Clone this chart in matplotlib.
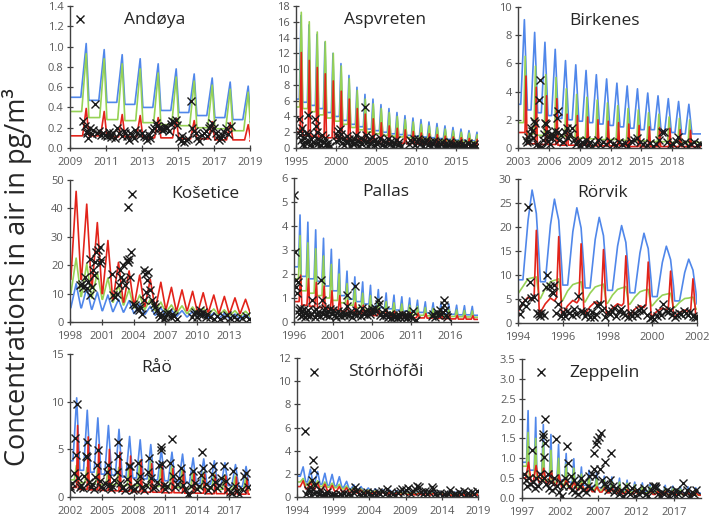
import numpy as np
import matplotlib.pyplot as plt
from matplotlib.ticker import FormatStrFormatter

plt.rcParams["font.family"] = ["Open Sans", "DejaVu Sans"]

BLUE, GREEN, RED = "#5087ea", "#96d255", "#e2231a"

# ---------------- Andøya ----------------
ANDOYA_YEARS = list(range(2009, 2019))
ANDOYA_BLUE_PK = [1.03, 0.97, 0.92, 0.88, 0.83, 0.78, 0.73, 0.69, 0.65, 0.61]
ANDOYA_BLUE_LO = [0.50, 0.47, 0.45, 0.43, 0.40, 0.37, 0.35, 0.32, 0.30, 0.28, 0.26]
ANDOYA_GREEN_PK = [0.93, 0.88, 0.83, 0.78, 0.74, 0.70, 0.66, 0.62, 0.58, 0.55]
ANDOYA_GREEN_LO = [0.36, 0.30, 0.28, 0.27, 0.25, 0.23, 0.22, 0.20, 0.19, 0.17, 0.16]
ANDOYA_RED_PK = [0.39, 0.36, 0.33, 0.32, 0.30, 0.29, 0.27, 0.26, 0.25, 0.23]
ANDOYA_RED_LO = [0.12, 0.12, 0.11, 0.11, 0.10, 0.10, 0.09, 0.09, 0.08, 0.08, 0.07]
ANDOYA_OBS = [
    (2009.56, 1.27), (2009.7, 0.27), (2009.84, 0.22), (2009.93, 0.17), (2010.0, 0.10),
    (2009.97, 0.15), (2010.1, 0.20), (2010.2, 0.14), (2010.3, 0.18), (2010.4, 0.43),
    (2010.5, 0.15), (2010.6, 0.17), (2010.7, 0.13), (2010.86, 0.15), (2010.95, 0.13),
    (2011.05, 0.12), (2011.15, 0.16), (2011.23, 0.13), (2011.3, 0.11), (2011.4, 0.15),
    (2011.5, 0.10), (2011.6, 0.20), (2011.7, 0.15), (2011.9, 0.12), (2012.0, 0.17),
    (2012.07, 0.15), (2012.15, 0.12), (2012.26, 0.08), (2012.35, 0.15), (2012.45, 0.13),
    (2012.55, 0.10), (2012.63, 0.18), (2012.72, 0.15), (2012.9, 0.13), (2013.0, 0.15),
    (2013.1, 0.12), (2013.2, 0.11), (2013.28, 0.08), (2013.4, 0.13), (2013.47, 0.10),
    (2013.55, 0.18), (2013.65, 0.20), (2013.75, 0.25), (2013.85, 0.22), (2013.93, 0.20),
    (2014.05, 0.20), (2014.12, 0.18), (2014.2, 0.19), (2014.3, 0.22), (2014.4, 0.20),
    (2014.5, 0.17), (2014.6, 0.24), (2014.68, 0.27), (2014.78, 0.26), (2014.87, 0.28),
    (2014.96, 0.23), (2015.05, 0.10), (2015.15, 0.07), (2015.24, 0.12), (2015.35, 0.06),
    (2015.42, 0.08), (2015.55, 0.09), (2015.7, 0.46), (2015.8, 0.20), (2015.9, 0.17),
    (2015.98, 0.15), (2016.05, 0.10), (2016.17, 0.07), (2016.36, 0.13), (2016.45, 0.15),
    (2016.54, 0.17), (2016.63, 0.12), (2016.73, 0.20), (2016.8, 0.22), (2016.9, 0.25),
    (2017.0, 0.20), (2017.1, 0.15), (2017.2, 0.12), (2017.3, 0.08), (2017.4, 0.10),
    (2017.47, 0.13), (2017.55, 0.16), (2017.66, 0.20), (2017.8, 0.14), (2017.94, 0.22),
]

# ---------------- Aspvreten ----------------
ASPVRETEN_YEARS = list(range(1995, 2018))
ASPVRETEN_BLUE_PK = [16.8, 15.6, 14.4, 13.4, 12.0, 10.7, 9.2, 7.7, 6.8, 6.2, 5.5, 5.0,
                     4.5, 4.1, 3.8, 3.6, 3.3, 3.1, 2.8, 2.6, 2.4, 2.2, 2.0]
ASPVRETEN_BLUE_LO = [6.2, 5.8, 5.4, 5.0, 4.5, 4.0, 3.5, 3.0, 2.7, 2.4, 2.2, 2.0,
                     1.8, 1.7, 1.6, 1.5, 1.4, 1.3, 1.2, 1.1, 1.0, 0.95, 0.9, 0.85]
ASPVRETEN_GREEN_PK = [17.2, 16.0, 14.7, 13.5, 12.0, 10.4, 8.8, 7.3, 6.2, 5.6, 5.0, 4.5,
                      4.0, 3.6, 3.3, 3.0, 2.8, 2.6, 2.4, 2.2, 2.0, 1.9, 1.7]
ASPVRETEN_GREEN_LO = [5.2, 5.0, 4.6, 4.2, 3.8, 3.4, 3.0, 2.6, 2.3, 2.0, 1.8, 1.6,
                      1.5, 1.4, 1.3, 1.2, 1.1, 1.0, 0.95, 0.9, 0.85, 0.8, 0.75, 0.7]
ASPVRETEN_RED_PK = [12.1, 11.1, 10.2, 9.4, 8.5, 7.2, 6.2, 5.0, 4.3, 3.7, 3.2, 2.8,
                    2.5, 2.3, 2.1, 1.9, 1.8, 1.7, 1.5, 1.4, 1.3, 1.2, 1.1]
ASPVRETEN_RED_LO = [2.0, 1.6, 1.5, 1.4, 1.3, 1.2, 1.1, 1.0, 0.9, 0.8, 0.75, 0.7,
                    0.65, 0.6, 0.55, 0.5, 0.5, 0.45, 0.45, 0.4, 0.4, 0.35, 0.35, 0.3]
ASPVRETEN_OBS = [
    (1995.35, 3.7), (1995.45, 2.2), (1995.55, 1.6), (1995.65, 1.0), (1995.75, 2.5),
    (1995.85, 0.5), (1995.95, 1.3), (1996.05, 0.3), (1996.15, 0.8), (1996.3, 1.9),
    (1996.45, 4.15), (1996.55, 1.8), (1996.65, 0.9), (1996.8, 0.4), (1996.9, 1.2),
    (1997.0, 0.2), (1997.1, 0.7), (1997.25, 1.5), (1997.4, 3.7), (1997.5, 2.75),
    (1997.6, 2.0), (1997.7, 1.2), (1997.8, 0.6), (1997.9, 0.3), (1998.0, 1.0),
    (1998.15, 0.4), (1998.3, 1.6), (1998.45, 0.8), (1998.6, 1.3), (1998.75, 0.5),
    (1998.9, 0.2), (1999.05, 0.6), (1999.2, 0.3), (2000.0, 0.9), (2000.1, 1.6),
    (2000.2, 2.2), (2000.35, 1.0), (2000.5, 2.45), (2000.6, 1.8), (2000.75, 0.6),
    (2000.9, 1.2), (2001.05, 0.4), (2001.2, 0.9), (2001.35, 1.5), (2001.5, 0.7),
    (2001.65, 1.1), (2001.8, 0.3), (2001.95, 0.8), (2002.1, 0.5), (2002.25, 1.2),
    (2002.4, 0.6), (2002.55, 1.6), (2002.7, 0.9), (2002.85, 0.3), (2003.0, 0.7),
    (2003.15, 1.3), (2003.3, 0.5), (2003.45, 1.0), (2003.6, 5.2), (2003.7, 1.6),
    (2003.85, 0.8), (2004.0, 0.3), (2004.15, 1.1), (2004.3, 0.6), (2004.45, 1.4),
    (2004.6, 0.9), (2004.75, 0.4), (2004.9, 1.0), (2005.1, 0.5), (2005.3, 0.8),
    (2005.5, 1.3), (2005.7, 0.4), (2005.9, 0.9), (2006.1, 0.3), (2006.3, 0.7),
    (2006.5, 1.2), (2006.7, 0.5), (2006.9, 0.9), (2007.1, 0.2), (2007.3, 0.6),
    (2007.5, 1.0), (2007.7, 0.4), (2007.9, 0.8), (2008.1, 0.3), (2009.1, 0.5),
    (2009.3, 1.0), (2009.5, 0.7), (2009.7, 1.2), (2009.9, 0.4), (2010.1, 0.8),
    (2010.3, 1.1), (2010.5, 0.5), (2010.7, 0.9), (2010.9, 0.3), (2011.1, 0.7),
    (2011.3, 1.0), (2011.5, 0.4), (2011.7, 0.8), (2011.9, 0.2), (2012.1, 0.6),
    (2012.3, 0.9), (2012.5, 0.3), (2012.7, 0.7), (2012.9, 0.2), (2013.1, 0.5),
    (2013.3, 0.8), (2013.5, 0.3), (2013.7, 0.6), (2013.9, 0.2), (2014.1, 0.4),
    (2014.3, 0.7), (2014.5, 0.3), (2014.7, 0.5), (2014.9, 0.2), (2015.1, 0.4),
    (2015.3, 0.6), (2015.5, 0.2), (2015.7, 0.5), (2015.9, 0.3), (2016.1, 0.4),
    (2016.3, 0.2), (2016.5, 0.6), (2016.7, 0.3), (2016.9, 0.4), (2017.1, 0.2),
    (2017.3, 0.5), (2017.5, 0.3),
]

# ---------------- Birkenes ----------------
BIRKENES_YEARS = list(range(2003, 2020))
BIRKENES_BLUE_PK = [9.1, 8.2, 7.5, 7.0, 6.2, 5.9, 5.5, 5.2, 4.9, 4.6, 4.4, 4.2, 3.9, 3.7, 3.5, 3.3, 3.1]
BIRKENES_BLUE_LO = [3.1, 2.7, 2.5, 2.3, 2.1, 2.0, 1.9, 1.8, 1.7, 1.6, 1.5, 1.4, 1.3, 1.3, 1.2, 1.1, 1.0, 1.0]
BIRKENES_GREEN_PK = [6.5, 5.8, 5.2, 5.0, 4.2, 3.8, 3.6, 3.4, 3.2, 3.0, 2.8, 2.7, 2.5, 2.4, 2.2, 2.1, 2.0]
BIRKENES_GREEN_LO = [1.8, 1.0, 0.9, 0.85, 0.8, 0.75, 0.7, 0.65, 0.6, 0.6, 0.55, 0.5, 0.5, 0.45, 0.45, 0.4, 0.4, 0.4]
BIRKENES_RED_PK = [5.1, 4.3, 3.7, 3.5, 2.4, 2.3, 2.2, 2.0, 1.9, 1.8, 1.7, 1.6, 1.5, 1.45, 1.4, 1.3, 1.25]
BIRKENES_RED_LO = [1.1, 0.3, 0.25, 0.25, 0.2, 0.2, 0.2, 0.15, 0.15, 0.15, 0.15, 0.1, 0.1, 0.1, 0.1, 0.1, 0.1, 0.1]
BIRKENES_OBS = [
    (2003.8, 0.6), (2003.9, 0.4), (2004.0, 0.8), (2004.1, 0.5), (2004.2, 1.0),
    (2004.3, 1.4), (2004.4, 1.2), (2004.5, 0.7), (2004.6, 1.9), (2004.7, 1.8),
    (2004.8, 0.3), (2004.9, 0.1), (2005.0, 3.4), (2005.1, 4.85), (2005.2, 0.05),
    (2005.3, 0.0), (2005.4, 0.6), (2005.5, 1.0), (2005.6, 1.75), (2005.7, 1.7),
    (2005.8, 1.1), (2005.9, 0.5), (2006.0, 0.8), (2006.1, 0.3), (2006.2, 1.0),
    (2006.3, 0.7), (2006.4, 0.9), (2006.6, 1.2), (2006.75, 2.1), (2006.85, 2.6),
    (2006.9, 1.1), (2007.0, 0.6), (2007.2, 0.9), (2007.4, 0.4), (2007.6, 1.1),
    (2007.8, 1.4), (2007.9, 0.7), (2008.1, 1.0), (2008.25, 1.45), (2008.4, 0.6),
    (2008.6, 0.3), (2008.8, 0.5), (2009.0, 0.2), (2009.2, 0.4), (2009.4, 0.3),
    (2009.6, 0.6), (2009.8, 0.2), (2010.0, 0.4), (2010.2, 0.15), (2010.5, 0.3),
    (2010.8, 0.55), (2011.0, 0.2), (2011.3, 0.4), (2011.6, 0.25), (2011.9, 0.5),
    (2012.2, 0.3), (2012.5, 0.2), (2012.8, 0.45), (2013.1, 0.25), (2013.4, 0.35),
    (2013.7, 0.15), (2014.0, 0.5), (2014.3, 0.6), (2014.6, 0.7), (2014.9, 0.4),
    (2015.2, 0.3), (2015.5, 0.2), (2015.8, 0.35), (2016.1, 0.15), (2016.4, 0.3),
    (2016.7, 0.6), (2017.0, 1.1), (2017.2, 1.15), (2017.5, 0.4), (2017.8, 0.2),
    (2018.1, 0.3), (2018.4, 0.5), (2018.6, 0.75), (2018.9, 0.25), (2019.2, 0.4),
    (2019.5, 0.15), (2019.8, 0.3), (2020.1, 0.45), (2020.4, 0.2), (2020.7, 0.25),
]

# ---------------- Košetice ----------------
KOSETICE_YEARS = list(range(1998, 2015))
KOSETICE_BLUE_PK = [13.5, 12, 10.5, 9.5, 8, 7.5, 6.5, 5.5, 5, 4.3, 4, 3.7, 3.4, 3.2, 3, 2.8, 2.6]
KOSETICE_BLUE_LO = [5, 5, 4.5, 4, 3.7, 3.5, 3, 2.7, 2.4, 2.2, 2, 1.8, 1.6, 1.5, 1.4, 1.3, 1.2, 1.2]
KOSETICE_GREEN_PK = [22.5, 20.5, 17.5, 15.5, 13, 11.5, 9.5, 8, 7, 6, 5.7, 5.3, 5, 4.6, 4.3, 4, 3.8]
KOSETICE_GREEN_LO = [10, 9, 8.5, 8, 7, 6, 5, 4.5, 4, 3.5, 3.2, 3, 2.8, 2.6, 2.4, 2.2, 2, 2]
KOSETICE_RED_PK = [46, 41.5, 35, 28.7, 21, 18, 16.5, 15, 14, 12.2, 11.3, 10.8, 10.3, 9.5, 9, 8.5, 8]
KOSETICE_RED_LO = [15, 15, 12, 10, 8, 7, 6, 5.5, 5, 4.5, 4, 4, 3.5, 3.5, 3, 3, 3, 3]
KOSETICE_OBS = [
    (1998.95, 12.9), (1999.1, 13.5), (1999.26, 12.3), (1999.4, 15.9), (1999.6, 11.8),
    (1999.7, 14.1), (1999.9, 9.4), (2000.05, 12.3), (1999.9, 22.3), (2000.2, 18.2),
    (2000.3, 16.5), (2000.4, 21.2), (2000.5, 24.7), (2000.6, 25.3), (2000.8, 26.5),
    (2000.85, 20.6), (2000.95, 21.8), (2001.95, 17.0), (2002.1, 9.4), (2002.26, 8.8),
    (2002.4, 10.0), (2002.6, 12.9), (2002.7, 18.2), (2002.8, 15.9), (2003.0, 14.7),
    (2003.05, 20.0), (2003.2, 12.9), (2003.4, 21.8), (2003.5, 40.6), (2003.5, 21.2),
    (2003.6, 22.3), (2003.7, 15.9), (2003.75, 24.7), (2003.85, 45.0), (2003.95, 6.5),
    (2004.15, 5.9), (2004.3, 4.7), (2004.5, 4.1), (2004.6, 5.3), (2004.8, 2.9),
    (2004.95, 7.6), (2005.0, 18.2), (2005.1, 17.0), (2005.2, 10.6), (2005.25, 14.7),
    (2005.4, 17.6), (2005.6, 11.2), (2005.7, 7.6), (2005.9, 6.5), (2006.05, 5.3),
    (2006.2, 4.1), (2006.4, 2.9), (2006.5, 1.8), (2006.7, 2.4), (2006.85, 1.2),
    (2007.0, 1.8), (2007.15, 2.9), (2007.3, 3.5), (2007.5, 1.8), (2007.6, 2.7),
    (2007.8, 2.0), (2008.1, 1.2), (2009.5, 1.8), (2009.7, 2.7), (2009.85, 3.5),
    (2010.0, 1.8), (2010.15, 2.9), (2010.3, 4.1), (2010.5, 2.4), (2010.6, 3.5),
    (2010.8, 1.8), (2010.95, 2.7), (2011.25, 1.8), (2011.6, 1.2), (2011.9, 2.0),
    (2012.2, 1.2), (2012.5, 1.8), (2012.85, 2.4), (2013.15, 1.4), (2013.5, 1.8),
    (2013.8, 1.2), (2014.2, 1.5), (2014.6, 2.0), (2014.9, 1.0),
]

# ---------------- Pallas ----------------
PALLAS_YEARS = list(range(1996, 2019))
PALLAS_BLUE_PK = [4.46, 4.16, 3.84, 3.49, 3.03, 2.61, 2.12, 1.88, 1.67, 1.53, 1.35, 1.21,
                  1.12, 1.05, 1.0, 0.91, 0.84, 0.8, 0.77, 0.75, 0.7, 0.68, 0.65]
PALLAS_BLUE_LO = [2.3, 1.9, 1.8, 1.7, 1.5, 1.3, 1.1, 0.95, 0.85, 0.75, 0.65, 0.6,
                  0.55, 0.5, 0.45, 0.42, 0.4, 0.38, 0.36, 0.34, 0.32, 0.3, 0.3, 0.28]
PALLAS_GREEN_PK = [3.6, 3.3, 3.05, 2.75, 2.4, 2.0, 1.6, 1.4, 1.2, 1.1, 0.95, 0.85,
                   0.8, 0.75, 0.7, 0.65, 0.6, 0.57, 0.55, 0.52, 0.5, 0.48, 0.46]
PALLAS_GREEN_LO = [1.8, 1.3, 1.2, 1.1, 1.0, 0.9, 0.8, 0.7, 0.6, 0.5, 0.45, 0.4,
                   0.37, 0.34, 0.31, 0.3, 0.28, 0.26, 0.25, 0.24, 0.23, 0.22, 0.21, 0.2]
PALLAS_RED_PK = [1.95, 1.8, 1.65, 1.5, 1.3, 1.1, 0.9, 0.8, 0.7, 0.6, 0.55, 0.5,
                 0.45, 0.42, 0.4, 0.37, 0.35, 0.33, 0.31, 0.3, 0.28, 0.27, 0.26]
PALLAS_RED_LO = [0.85, 0.7, 0.65, 0.6, 0.55, 0.5, 0.45, 0.4, 0.35, 0.3, 0.27, 0.25,
                 0.22, 0.2, 0.19, 0.18, 0.17, 0.16, 0.15, 0.14, 0.13, 0.12, 0.12, 0.11]
PALLAS_OBS = [
    (1996.04, 5.3), (1996.1, 2.93), (1996.2, 1.46), (1996.3, 1.74), (1996.35, 1.19),
    (1996.5, 1.67), (1996.6, 0.5), (1996.7, 0.35), (1996.8, 0.6), (1996.9, 0.25),
    (1997.0, 0.45), (1997.1, 0.3), (1997.25, 0.55), (1997.4, 0.2), (1997.55, 0.4),
    (1997.7, 0.3), (1997.85, 0.5), (1998.0, 0.25), (1998.15, 0.35), (1998.35, 0.9),
    (1998.5, 0.45), (1998.65, 0.2), (1998.8, 0.55), (1998.95, 0.3), (1999.1, 0.4),
    (1999.3, 0.25), (1999.46, 1.74), (1999.55, 0.93), (1999.7, 0.35), (1999.85, 0.5),
    (2000.0, 0.6), (2000.15, 0.3), (2000.3, 0.45), (2000.5, 0.25), (2000.65, 0.55),
    (2000.8, 0.35), (2001.0, 0.5), (2001.2, 0.3), (2001.4, 0.2), (2001.6, 0.45),
    (2001.8, 0.3), (2002.0, 0.25), (2002.2, 0.4), (2002.4, 0.3), (2002.6, 0.35),
    (2002.75, 1.12), (2002.8, 0.66), (2003.0, 0.3), (2003.2, 0.4), (2003.4, 0.2),
    (2003.6, 0.35), (2003.73, 1.51), (2003.9, 0.5), (2004.1, 0.3), (2004.3, 0.4),
    (2004.5, 0.25), (2004.7, 0.6), (2004.9, 0.35), (2005.1, 0.45), (2005.3, 0.3),
    (2005.5, 0.5), (2005.7, 0.35), (2005.9, 0.55), (2006.1, 0.4), (2006.3, 0.6),
    (2006.5, 0.45), (2006.7, 0.9), (2006.8, 0.77), (2006.95, 0.3), (2007.2, 0.4),
    (2007.4, 0.25), (2007.6, 0.5), (2007.8, 0.3), (2008.0, 0.2), (2008.2, 0.35),
    (2008.4, 0.15), (2008.6, 0.3), (2008.8, 0.2), (2009.0, 0.25), (2009.2, 0.15),
    (2009.4, 0.3), (2009.6, 0.2), (2009.8, 0.35), (2010.0, 0.2), (2010.2, 0.3),
    (2010.4, 0.15), (2010.6, 0.25), (2010.8, 0.35), (2011.0, 0.2), (2011.2, 0.45),
    (2011.4, 0.05), (2011.6, 0.1), (2013.6, 0.25), (2013.8, 0.35), (2014.0, 0.2),
    (2014.2, 0.4), (2014.4, 0.3), (2014.6, 0.5), (2014.8, 0.35), (2015.0, 0.4),
    (2015.1, 0.93), (2015.2, 0.7), (2015.3, 0.52), (2015.4, 0.3), (2015.5, 0.2),
]

# ---------------- Rörvik (finer seasonal shape) ----------------
RORVIK_YEARS = list(range(1994, 2002))
RORVIK_PHASES = [0.0, 0.22, 0.45, 0.63, 0.72, 0.82, 0.95]
RORVIK_BLUE = [
    [9.0, 9.0, 21.4, 27.7, 25.5, 22.8, 13.0],
    [8.6, 8.6, 20.4, 25.8, 23.6, 21.4, 12.0],
    [7.9, 7.9, 19.0, 24.0, 22.0, 19.8, 11.2],
    [7.3, 7.3, 17.4, 22.0, 20.2, 18.2, 10.3],
    [6.8, 6.8, 16.0, 20.3, 18.6, 16.8, 9.6],
    [6.3, 6.3, 14.6, 18.7, 17.1, 15.5, 8.8],
    [5.5, 5.5, 12.6, 16.0, 14.7, 13.2, 7.7],
    [4.6, 4.6, 10.5, 13.3, 12.2, 11.0, 6.5],
]
RORVIK_BLUE_END = 4.0
RORVIK_GREEN = [
    [6.1, 7.6, 9.2, 9.4, 9.5, 9.6, 5.1],
    [5.1, 7.2, 8.6, 8.9, 9.0, 9.2, 4.7],
    [4.7, 6.7, 8.0, 8.3, 8.4, 8.6, 4.4],
    [4.4, 6.2, 7.5, 7.8, 7.9, 8.1, 4.1],
    [4.1, 5.8, 7.0, 7.3, 7.4, 7.6, 3.9],
    [3.9, 5.4, 6.5, 6.8, 6.9, 7.0, 3.6],
    [3.6, 4.8, 5.8, 6.0, 6.1, 6.2, 3.2],
    [3.2, 4.3, 5.1, 5.2, 5.3, 5.4, 2.9],
]
RORVIK_GREEN_END = 2.9
RORVIK_RED = [
    [2.3, 4.2, 5.4, 4.7, 5.5, 19.3, 2.2],
    [2.2, 4.0, 5.2, 4.6, 5.3, 18.0, 2.0],
    [2.0, 3.6, 4.7, 4.2, 4.8, 16.5, 1.9],
    [1.9, 3.4, 4.4, 3.9, 4.4, 15.3, 1.8],
    [1.8, 3.1, 4.0, 3.6, 4.1, 14.0, 1.6],
    [1.6, 2.9, 3.6, 3.2, 3.7, 12.7, 1.4],
    [1.4, 2.5, 3.1, 2.7, 3.2, 10.8, 1.3],
    [1.3, 2.2, 2.7, 2.4, 2.8, 9.2, 1.2],
]
RORVIK_RED_END = 1.2
RORVIK_OBS = [
    (1994.05, 3.2), (1994.1, 1.8), (1994.2, 4.2), (1994.3, 4.8), (1994.35, 3.5),
    (1994.45, 24.2), (1994.55, 8.6), (1994.6, 5.3), (1994.7, 5.5), (1994.85, 2.0),
    (1994.95, 1.8), (1995.0, 1.5), (1995.05, 2.0), (1995.15, 1.6), (1995.25, 7.4),
    (1995.3, 9.9), (1995.45, 7.7), (1995.5, 6.5), (1995.55, 6.2), (1995.6, 7.9),
    (1995.7, 2.0), (1995.8, 3.9), (1995.9, 1.4), (1996.0, 2.2), (1996.1, 1.5),
    (1996.2, 2.5), (1996.3, 2.1), (1996.4, 1.6), (1996.5, 2.9), (1996.6, 1.8),
    (1996.7, 5.7), (1996.8, 2.6), (1996.9, 2.2), (1997.0, 1.5), (1997.1, 2.0),
    (1997.2, 1.3), (1997.3, 2.3), (1997.4, 1.2), (1997.5, 1.8), (1997.55, 3.7),
    (1997.65, 4.0), (1997.75, 2.7), (1997.9, 1.3), (1998.0, 2.3), (1998.1, 1.8),
    (1998.2, 2.6), (1998.3, 3.2), (1998.4, 1.5), (1998.5, 2.5), (1998.6, 3.0),
    (1998.7, 2.1), (1998.8, 1.6), (1998.9, 1.2), (1999.0, 2.0), (1999.1, 1.5),
    (1999.2, 2.1), (1999.3, 1.7), (1999.4, 2.7), (1999.5, 3.2), (1999.6, 2.4),
    (1999.75, 1.6), (1999.9, 1.1), (2000.0, 1.3), (2000.1, 0.8), (2000.2, 1.4),
    (2000.3, 2.2), (2000.4, 1.7), (2000.5, 4.0), (2000.6, 2.6), (2000.7, 2.2),
    (2000.8, 2.8), (2000.9, 1.7), (2001.0, 1.2), (2001.1, 1.6), (2001.2, 2.1),
    (2001.3, 1.8), (2001.4, 2.4), (2001.5, 2.1), (2001.6, 1.7), (2001.7, 2.2),
    (2001.8, 1.5), (2001.9, 1.3), (2001.98, 1.3),
]

# ---------------- Råö ----------------
RAO_YEARS = list(range(2002, 2019))
RAO_BLUE_PK = [10.4, 9.1, 8.3, 7.5, 7.1, 6.35, 6.0, 5.5, 5.0, 4.7, 4.5, 4.1, 4.0, 3.8, 3.6, 3.4, 3.2]
RAO_BLUE_LO = [3.8, 2.8, 2.6, 2.4, 2.3, 2.1, 2.0, 1.9, 1.8, 1.7, 1.6, 1.5, 1.4, 1.35, 1.3, 1.2, 1.1, 1.0]
RAO_GREEN_PK = [3.3, 3.1, 3.0, 3.0, 3.1, 3.4, 3.8, 3.7, 3.4, 3.2, 3.0, 2.8, 2.6, 2.5, 2.3, 2.2, 2.1]
RAO_GREEN_LO = [1.8, 1.5, 1.4, 1.3, 1.3, 1.2, 1.2, 1.1, 1.1, 1.0, 1.0, 0.9, 0.9, 0.85, 0.8, 0.8, 0.75, 0.7]
RAO_RED_PK = [7.5, 6.3, 5.5, 5.0, 4.7, 4.3, 3.9, 3.5, 3.2, 3.0, 2.8, 2.6, 2.4, 2.3, 2.2, 2.1, 2.0]
RAO_RED_LO = [1.0, 0.8, 0.75, 0.7, 0.65, 0.6, 0.55, 0.5, 0.5, 0.45, 0.45, 0.4, 0.4, 0.35, 0.35, 0.3, 0.3, 0.3]
RAO_OBS = [
    (2002.0, 1.2), (2002.1, 0.8), (2002.2, 1.5), (2002.35, 2.5), (2002.5, 6.2),
    (2002.6, 4.4), (2002.7, 9.8), (2002.8, 2.0), (2002.9, 1.0), (2003.05, 1.3),
    (2003.2, 0.9), (2003.35, 2.2), (2003.5, 4.3), (2003.6, 5.8), (2003.65, 4.2),
    (2003.8, 1.6), (2003.95, 1.0), (2004.1, 1.4), (2004.25, 0.8), (2004.4, 2.1),
    (2004.55, 3.4), (2004.6, 4.95), (2004.8, 1.7), (2004.95, 1.1), (2005.1, 0.9),
    (2005.3, 1.5), (2005.45, 2.6), (2005.55, 3.4), (2005.7, 1.3), (2005.85, 0.8),
    (2006.0, 1.2), (2006.2, 1.8), (2006.4, 2.6), (2006.5, 4.25), (2006.56, 5.8),
    (2006.7, 1.5), (2006.9, 0.9), (2007.05, 1.1), (2007.2, 0.7), (2007.4, 1.9),
    (2007.55, 3.2), (2007.65, 3.2), (2007.8, 1.0), (2007.95, 0.7), (2008.1, 0.8),
    (2008.3, 1.6), (2008.45, 3.55), (2008.6, 2.2), (2008.8, 1.1), (2009.0, 0.7),
    (2009.2, 1.3), (2009.4, 2.6), (2009.5, 4.1), (2009.65, 2.0), (2009.85, 0.9),
    (2010.0, 1.0), (2010.2, 1.6), (2010.4, 3.4), (2010.55, 5.2), (2010.62, 4.95),
    (2010.7, 3.5), (2010.85, 1.3), (2011.0, 0.8), (2011.2, 1.2), (2011.4, 3.55),
    (2011.6, 6.1), (2011.75, 2.2), (2011.95, 1.0), (2012.1, 1.4), (2012.3, 2.0),
    (2012.5, 3.0), (2012.7, 1.3), (2012.9, 0.8), (2013.1, 0.3), (2013.25, 0.2),
    (2013.4, 1.2), (2013.6, 2.7), (2013.8, 1.5), (2014.0, 0.8), (2014.2, 1.2),
    (2014.4, 2.3), (2014.5, 4.67), (2014.6, 3.0), (2014.8, 1.4), (2015.0, 0.7),
    (2015.2, 1.1), (2015.4, 2.4), (2015.5, 3.2), (2015.7, 1.6), (2015.9, 0.9),
    (2016.1, 1.3), (2016.3, 2.0), (2016.5, 3.3), (2016.7, 1.7), (2016.9, 0.8),
    (2017.1, 0.5), (2017.3, 0.4), (2017.4, 2.7), (2017.6, 1.2), (2017.8, 0.6),
    (2018.0, 0.3), (2018.2, 0.8), (2018.4, 2.2), (2018.6, 2.5), (2018.8, 1.0),
]

# ---------------- Stórhöfði ----------------
STORHOFDI_YEARS = list(range(1994, 2019))
STORHOFDI_BLUE_PK = [2.6, 2.4, 2.2, 2.05, 1.95, 1.75, 1.35, 1.05, 0.9, 0.78, 0.7, 0.62, 0.58,
                     0.55, 0.52, 0.5, 0.48, 0.46, 0.45, 0.44, 0.43, 0.42, 0.41, 0.4, 0.4]
STORHOFDI_BLUE_LO = [1.8, 1.3, 1.2, 1.1, 1.0, 0.95, 0.85, 0.7, 0.6, 0.5, 0.45, 0.4, 0.38,
                     0.36, 0.34, 0.32, 0.3, 0.3, 0.29, 0.28, 0.27, 0.26, 0.25, 0.25, 0.24, 0.24]
STORHOFDI_GREEN_PK = [1.6, 1.5, 1.4, 1.3, 1.2, 1.1, 0.95, 0.8, 0.7, 0.6, 0.55, 0.5, 0.47,
                      0.45, 0.43, 0.41, 0.4, 0.38, 0.37, 0.36, 0.35, 0.34, 0.33, 0.32, 0.32]
STORHOFDI_GREEN_LO = [1.3, 1.0, 0.95, 0.9, 0.85, 0.8, 0.7, 0.6, 0.5, 0.45, 0.4, 0.36, 0.33,
                      0.3, 0.29, 0.28, 0.27, 0.26, 0.25, 0.24, 0.23, 0.22, 0.22, 0.21, 0.2, 0.2]
STORHOFDI_RED_PK = [1.4, 1.3, 1.2, 1.1, 1.0, 0.9, 0.8, 0.7, 0.6, 0.5, 0.45, 0.42, 0.4,
                    0.38, 0.36, 0.34, 0.32, 0.31, 0.3, 0.29, 0.28, 0.27, 0.26, 0.25, 0.25]
STORHOFDI_RED_LO = [0.9, 0.7, 0.65, 0.6, 0.55, 0.5, 0.45, 0.4, 0.35, 0.3, 0.28, 0.26, 0.24,
                    0.22, 0.21, 0.2, 0.19, 0.18, 0.17, 0.16, 0.16, 0.15, 0.15, 0.14, 0.14, 0.14]
STORHOFDI_OBS = [
    (1995.1, 5.67), (1996.3, 10.76), (1996.2, 3.17), (1996.3, 2.3), (1996.1, 1.5),
    (1995.8, 0.9), (1995.5, 0.6), (1995.3, 0.3), (1995.9, 0.2), (1996.0, 0.5),
    (1996.5, 1.0), (1996.6, 0.4), (1996.8, 0.1), (1997.0, 0.3), (1997.2, 0.6),
    (1997.4, 0.2), (1997.6, 0.05), (1997.8, 0.3), (1998.0, 0.15), (1998.2, 0.4),
    (1998.5, 0.1), (1998.8, 0.25), (1999.0, 0.05), (1999.3, 0.2), (1999.6, 0.1),
    (1999.9, 0.3), (2000.2, 0.15), (2000.5, 0.35), (2000.8, 0.1), (2001.1, 0.3),
    (2001.4, 0.2), (2001.7, 0.45), (2002.0, 0.85), (2002.2, 0.5), (2002.5, 0.3),
    (2002.8, 0.15), (2003.1, 0.35), (2003.4, 0.2), (2003.7, 0.45), (2004.0, 0.3),
    (2004.3, 0.15), (2004.6, 0.35), (2004.9, 0.2), (2005.2, 0.4), (2005.5, 0.25),
    (2005.8, 0.5), (2006.1, 0.3), (2006.4, 0.7), (2006.7, 0.2), (2007.0, 0.4),
    (2007.3, 0.3), (2007.6, 0.15), (2007.9, 0.35), (2008.2, 0.5), (2008.5, 0.7),
    (2008.8, 0.4), (2009.1, 0.6), (2009.4, 0.8), (2009.7, 0.3), (2010.0, 0.5),
    (2010.3, 0.7), (2010.6, 0.95), (2010.8, 0.85), (2011.1, 0.4), (2011.4, 0.25),
    (2011.7, 0.5), (2012.0, 0.3), (2012.3, 0.45), (2012.6, 0.85), (2012.8, 0.7),
    (2013.1, 0.3), (2013.4, 0.15), (2013.7, 0.35), (2014.0, 0.1), (2014.3, 0.25),
    (2014.6, 0.15), (2014.9, 0.3), (2015.2, 0.6), (2015.5, 0.2), (2015.8, 0.3),
    (2016.1, 0.15), (2016.4, 0.4), (2016.7, 0.25), (2017.0, 0.55), (2017.3, 0.2),
    (2017.6, 0.35), (2017.9, 0.15), (2018.2, 0.45), (2018.5, 0.3), (2018.8, 0.55),
]

# ---------------- Zeppelin ----------------
ZEPPELIN_YEARS = list(range(1997, 2020))
ZEPPELIN_BLUE_PK = [2.2, 2.03, 1.85, 1.6, 1.35, 1.12, 0.99, 0.78, 0.7, 0.63, 0.55, 0.53,
                    0.5, 0.45, 0.4, 0.38, 0.35, 0.34, 0.32, 0.3, 0.29, 0.28, 0.26]
ZEPPELIN_BLUE_LO = [0.9, 0.7, 0.62, 0.55, 0.5, 0.45, 0.4, 0.36, 0.32, 0.29, 0.26, 0.24,
                    0.22, 0.2, 0.19, 0.18, 0.17, 0.16, 0.15, 0.14, 0.14, 0.13, 0.12, 0.12]
ZEPPELIN_GREEN_PK = [1.65, 1.5, 1.4, 1.2, 1.0, 0.85, 0.75, 0.6, 0.55, 0.5, 0.45, 0.42,
                     0.4, 0.37, 0.33, 0.3, 0.28, 0.26, 0.25, 0.23, 0.22, 0.21, 0.2]
ZEPPELIN_GREEN_LO = [0.8, 0.55, 0.5, 0.45, 0.4, 0.35, 0.3, 0.27, 0.24, 0.22, 0.2, 0.18,
                     0.17, 0.16, 0.15, 0.14, 0.13, 0.12, 0.11, 0.1, 0.1, 0.09, 0.09, 0.08]
ZEPPELIN_RED_PK = [0.9, 0.82, 0.75, 0.68, 0.58, 0.48, 0.42, 0.36, 0.32, 0.28, 0.26, 0.24,
                   0.22, 0.21, 0.2, 0.19, 0.18, 0.17, 0.16, 0.15, 0.15, 0.14, 0.13]
ZEPPELIN_RED_LO = [0.5, 0.42, 0.4, 0.36, 0.32, 0.27, 0.24, 0.21, 0.18, 0.16, 0.15, 0.13,
                   0.12, 0.11, 0.1, 0.1, 0.09, 0.09, 0.08, 0.08, 0.08, 0.07, 0.07, 0.07]
ZEPPELIN_OBS = [
    (1997.3, 0.6), (1997.5, 0.45), (1997.7, 0.3), (1997.9, 0.5), (1998.1, 0.35),
    (1998.3, 1.2), (1998.5, 0.4), (1998.7, 0.25), (1998.9, 0.5), (1999.1, 0.3),
    (1999.3, 0.6), (1999.54, 3.18), (1999.6, 0.45), (1999.76, 1.61), (1999.8, 1.54),
    (1999.85, 1.03), (1999.9, 0.5), (2000.0, 1.39), (2000.06, 1.98), (2000.2, 0.35),
    (2000.4, 0.6), (2000.6, 0.25), (2000.8, 0.4), (2001.0, 0.2), (2001.2, 0.5),
    (2001.5, 1.49), (2001.6, 0.3), (2001.8, 0.15), (2002.0, 0.4), (2002.2, 0.05),
    (2002.4, 0.3), (2002.6, 0.5), (2002.9, 1.32), (2003.0, 0.87), (2003.2, 0.3),
    (2003.4, 0.55), (2003.6, 0.2), (2003.8, 0.45), (2004.0, 0.15), (2004.2, 0.35),
    (2004.4, 0.1), (2004.6, 0.3), (2004.8, 0.5), (2005.0, 0.2), (2005.2, 0.4),
    (2005.4, 0.15), (2005.6, 0.3), (2005.8, 0.55), (2006.0, 0.25), (2006.2, 0.6),
    (2006.4, 1.14), (2006.5, 0.74), (2006.6, 0.55), (2006.76, 1.37), (2006.9, 1.46),
    (2007.05, 1.54), (2007.2, 0.74), (2007.37, 1.64), (2007.5, 0.45), (2007.7, 0.35),
    (2007.94, 0.91), (2008.1, 0.3), (2008.3, 0.2), (2008.5, 0.45), (2008.7, 1.14),
    (2008.9, 0.3), (2009.1, 0.15), (2009.4, 0.25), (2009.7, 0.1), (2010.0, 0.2),
    (2010.3, 0.05), (2010.6, 0.3), (2010.9, 0.15), (2011.2, 0.1), (2011.5, 0.25),
    (2011.8, 0.05), (2012.1, 0.2), (2012.4, 0.1), (2012.7, 0.15), (2013.0, 0.25),
    (2013.3, 0.1), (2013.6, 0.05), (2013.9, 0.2), (2014.2, 0.3), (2014.4, 0.27),
    (2014.5, 0.29), (2014.6, 0.25), (2014.8, 0.1), (2015.1, 0.05), (2015.4, 0.15),
    (2015.7, 0.1), (2016.0, 0.2), (2016.3, 0.05), (2016.6, 0.15), (2016.9, 0.1),
    (2017.2, 0.2), (2017.5, 0.1), (2017.8, 0.15), (2018.1, 0.38), (2018.4, 0.1),
    (2018.7, 0.2), (2019.0, 0.05), (2019.3, 0.15), (2019.6, 0.1), (2019.9, 0.2),
]


def seasonal(years, peaks, lows, timing, t_start, t_end):
    # trough before each peak, the peak, then the next trough level
    phase, pre, post = timing
    t, v = [t_start], [lows[0]]
    for i, yr in enumerate(years):
        t += [yr + phase - pre, yr + phase, yr + phase + post]
        v += [lows[i], peaks[i], lows[i + 1]]
    t.append(t_end)
    v.append(lows[-1])
    return t, v


def gridded(years, phases, rows, end_value, t_end):
    t = [yr + p for yr in years for p in phases] + [t_end]
    v = [x for row in rows for x in row] + [end_value]
    return t, v


# left, right, top, bottom in pixels of the 709x520 canvas
panels = [
    dict(name="Andøya", rect=(70, 250, 6, 148), xlim=(2009, 2019), xt=range(2009, 2020, 2),
         ylim=1.4, yt=np.arange(0, 1.41, 0.2), fmt="%.1f", tx=0.47,
         years=ANDOYA_YEARS, obs=ANDOYA_OBS,
         lines=[(ANDOYA_BLUE_PK, ANDOYA_BLUE_LO, BLUE, (0.9, 0.3, 0.15)),
                (ANDOYA_GREEN_PK, ANDOYA_GREEN_LO, GREEN, (0.9, 0.25, 0.15)),
                (ANDOYA_RED_PK, ANDOYA_RED_LO, RED, (0.9, 0.2, 0.15))]),
    dict(name="Aspvreten", rect=(296, 478, 6, 148), xlim=(1995, 2017.75), xt=range(1995, 2016, 5),
         ylim=18, yt=range(0, 19, 2), fmt="%d", tx=0.49,
         years=ASPVRETEN_YEARS, obs=ASPVRETEN_OBS,
         lines=[(ASPVRETEN_BLUE_PK, ASPVRETEN_BLUE_LO, BLUE, (0.62, 0.2, 0.2)),
                (ASPVRETEN_GREEN_PK, ASPVRETEN_GREEN_LO, GREEN, (0.66, 0.2, 0.2)),
                (ASPVRETEN_RED_PK, ASPVRETEN_RED_LO, RED, (0.66, 0.15, 0.15))]),
    dict(name="Birkenes", rect=(518, 701, 7, 148), xlim=(2003, 2020.8), xt=range(2003, 2019, 3),
         ylim=10, yt=range(0, 11, 2), fmt="%d", tx=0.47,
         years=BIRKENES_YEARS, obs=BIRKENES_OBS,
         lines=[(BIRKENES_BLUE_PK, BIRKENES_BLUE_LO, BLUE, (0.62, 0.35, 0.3)),
                (BIRKENES_GREEN_PK, BIRKENES_GREEN_LO, GREEN, (0.7, 0.15, 0.12)),
                (BIRKENES_RED_PK, BIRKENES_RED_LO, RED, (0.78, 0.1, 0.1))]),
    dict(name="Košetice", rect=(70, 250, 180, 322), xlim=(1998, 2015), xt=range(1998, 2014, 3),
         ylim=50, yt=range(0, 51, 10), fmt="%d", tx=0.75,
         years=KOSETICE_YEARS, obs=KOSETICE_OBS,
         lines=[(KOSETICE_BLUE_PK, KOSETICE_BLUE_LO, BLUE, (0.58, 0.5, 0.45)),
                (KOSETICE_GREEN_PK, KOSETICE_GREEN_LO, GREEN, (0.58, 0.5, 0.45)),
                (KOSETICE_RED_PK, KOSETICE_RED_LO, RED, (0.58, 0.5, 0.45))]),
    dict(name="Pallas", rect=(294, 478, 178, 322), xlim=(1996, 2019.5), xt=range(1996, 2017, 5),
         ylim=6, yt=range(0, 7), fmt="%d", tx=0.5,
         years=PALLAS_YEARS, obs=PALLAS_OBS,
         lines=[(PALLAS_BLUE_PK, PALLAS_BLUE_LO, BLUE, (0.77, 0.2, 0.15)),
                (PALLAS_GREEN_PK, PALLAS_GREEN_LO, GREEN, (0.77, 0.2, 0.15)),
                (PALLAS_RED_PK, PALLAS_RED_LO, RED, (0.85, 0.2, 0.15))]),
    dict(name="Rörvik", rect=(518, 697, 179, 323), xlim=(1994, 2002), xt=range(1994, 2003, 2),
         ylim=30, yt=range(0, 31, 5), fmt="%d", tx=0.47,
         years=RORVIK_YEARS, obs=RORVIK_OBS, lines=None),
    dict(name="Råö", rect=(70, 250, 354, 497), xlim=(2002, 2019), xt=range(2002, 2018, 3),
         ylim=15, yt=range(0, 16, 5), fmt="%d", tx=0.48,
         years=RAO_YEARS, obs=RAO_OBS,
         lines=[(RAO_BLUE_PK, RAO_BLUE_LO, BLUE, (0.63, 0.35, 0.3)),
                (RAO_GREEN_PK, RAO_GREEN_LO, GREEN, (0.6, 0.2, 0.12)),
                (RAO_RED_PK, RAO_RED_LO, RED, (0.72, 0.1, 0.1))]),
    dict(name="Stórhöfði", rect=(297, 478, 358, 497), xlim=(1994, 2019), xt=range(1994, 2020, 5),
         ylim=12, yt=range(0, 13, 2), fmt="%d", tx=0.49,
         years=STORHOFDI_YEARS, obs=STORHOFDI_OBS,
         lines=[(STORHOFDI_BLUE_PK, STORHOFDI_BLUE_LO, BLUE, (0.85, 0.4, 0.35)),
                (STORHOFDI_GREEN_PK, STORHOFDI_GREEN_LO, GREEN, (0.85, 0.4, 0.35)),
                (STORHOFDI_RED_PK, STORHOFDI_RED_LO, RED, (0.85, 0.4, 0.35))]),
    dict(name="Zeppelin", rect=(522, 701, 359, 498), xlim=(1997, 2020.5), xt=range(1997, 2018, 5),
         ylim=3.5, yt=np.arange(0, 3.51, 0.5), fmt="%.1f", tx=0.46,
         years=ZEPPELIN_YEARS, obs=ZEPPELIN_OBS,
         lines=[(ZEPPELIN_BLUE_PK, ZEPPELIN_BLUE_LO, BLUE, (0.8, 0.2, 0.15)),
                (ZEPPELIN_GREEN_PK, ZEPPELIN_GREEN_LO, GREEN, (0.8, 0.2, 0.15)),
                (ZEPPELIN_RED_PK, ZEPPELIN_RED_LO, RED, (0.85, 0.35, 0.35))]),
]

W, H = 709, 520
fig = plt.figure(figsize=(W / 100, H / 100), dpi=100)
axis_col = "#404040"
lw = 1.2

for p in panels:
    left, right, top, bottom = p["rect"]
    ax = fig.add_axes([left / W, 1 - bottom / H, (right - left) / W, (bottom - top) / H])
    x0, x1 = p["xlim"]
    if p["lines"] is None:
        for rows, end, color in [(RORVIK_BLUE, RORVIK_BLUE_END, BLUE),
                                 (RORVIK_GREEN, RORVIK_GREEN_END, GREEN),
                                 (RORVIK_RED, RORVIK_RED_END, RED)]:
            t, v = gridded(p["years"], RORVIK_PHASES, rows, end, x1)
            ax.plot(t, v, color=color, lw=lw)
    else:
        for pk, lo, color, timing in p["lines"]:
            t, v = seasonal(p["years"], pk, lo, timing, x0, x1)
            ax.plot(t, v, color=color, lw=lw)
    ox = [o[0] for o in p["obs"]]
    oy = [o[1] for o in p["obs"]]
    ax.plot(ox, oy, linestyle="none", marker="x", color="#1a1a1a", ms=5.5, mew=1.0)

    ax.set_xlim(x0, x1)
    ax.set_ylim(0, p["ylim"])
    ax.set_xticks(list(p["xt"]))
    ax.set_yticks(list(p["yt"]))
    ax.yaxis.set_major_formatter(FormatStrFormatter(p["fmt"]))
    for s in ("top", "right"):
        ax.spines[s].set_visible(False)
    for s in ("left", "bottom"):
        ax.spines[s].set_color(axis_col)
        ax.spines[s].set_linewidth(1.0)
    ax.tick_params(direction="inout", length=5, width=0.9, color=axis_col,
                   labelsize=8, labelcolor="#595959", pad=2)
    ax.tick_params(axis="x", pad=4)
    ax.patch.set_alpha(0)
    ax.text(p["tx"], 0.9, p["name"], transform=ax.transAxes, ha="center", va="center",
            fontsize=12.5, color="#262626")

fig.text(17 / W, 1 - 277 / H, "Concentrations in air in pg/m³", rotation=90, ha="center",
         va="center", fontsize=19.5, color="#262626")

fig.savefig("out.png", dpi=100)
